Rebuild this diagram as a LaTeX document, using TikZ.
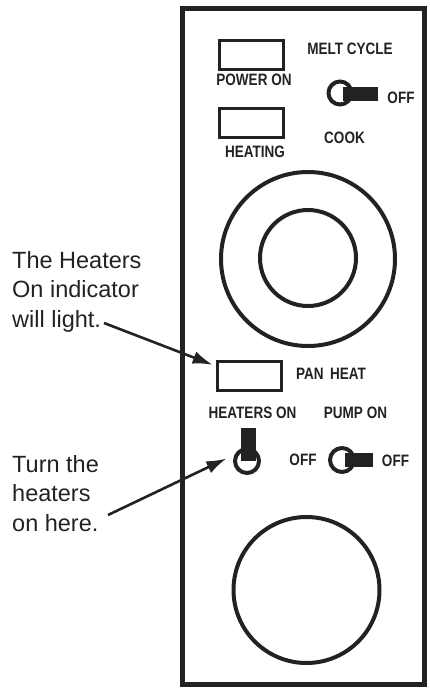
\documentclass[tikz,border=0pt]{standalone}
\usepackage{fontspec}
\newfontfamily\notefont{Liberation Sans}
\newfontfamily\panelfont[FakeStretch=0.82]{Liberation Sans}
\usepackage{tikz}
\usetikzlibrary{arrows.meta, positioning}
\definecolor{ink}{HTML}{222222}

\begin{document}
\begin{tikzpicture}[
  x=1pt, y=-1pt,
  >=Latex,
  lamp/.style={draw=ink, line width=3pt, minimum width=64pt, minimum height=29pt, inner sep=0pt},
  tag/.style={font=\panelfont\bfseries\fontsize{16.5}{18}\selectfont, text=ink, inner sep=0pt},
  note/.style={font=\notefont\fontsize{23.5}{29.5}\selectfont, text=ink, align=left, inner sep=0pt, anchor=north west},
  dial/.style={circle, draw=ink, line width=4pt, inner sep=0pt},
  knob/.style={circle, draw=ink, line width=4pt, minimum size=23pt, inner sep=0pt},
  lever/.style={fill=ink, draw=none, inner sep=0pt},
  arrow/.style={-{Latex[length=20pt, width=13pt]}, line width=2.6pt, draw=ink}
]
\useasboundingbox (0,0) rectangle (430,688);

% panel
\draw[ink, line width=5pt] (182.5,8) rectangle (424.5,684);

% upper indicators
\node[lamp] (poweron) at (251,54.5) {};
\node[tag] (powertag) at (254,80) {POWER ON};
\node[lamp] (heating) at (251,123) {};
\node[tag] (heattag) at (255,152) {HEATING};

% melt cycle switch
\node[tag] (melttag) at (350,49) {MELT CYCLE};
\node[lever, minimum width=35pt, minimum height=14pt] (meltlever) at (360.5,93.5) {};
\node[knob] (meltknob) at (340,93) {};
\node[tag] (meltoff) at (401,98) {OFF};
\node[tag] (cooktag) at (344.5,138) {COOK};

% upper dial
\node[dial, minimum size=174pt] (bigdial) at (308,259) {};
\node[dial, minimum size=96pt] (bigcap) at (308,258) {};

% pan heat
\node[lamp] (panheat) at (249,375.5) {};
\node[tag] (pantag) at (331,374) {PAN\hspace{0.4em}HEAT};

% heaters switch
\node[tag] (heatersontag) at (252.5,413) {HEATERS ON};
\node[lever, minimum width=15pt, minimum height=33pt] (heatlever) at (248.5,444.5) {};
\node[knob, minimum size=24pt] (heatknob) at (247,461) {};

% pump switch
\node[tag] (pumptag) at (355.5,413) {PUMP ON};
\node[tag] (pumpoffl) at (303,460) {OFF};
\node[lever, minimum width=28pt, minimum height=14pt] (pumplever) at (359,460) {};
\node[knob, minimum size=24pt] (pumpknob) at (342,460) {};
\node[tag] (pumpoffr) at (395.5,461) {OFF};

% lower dial
\node[dial, minimum size=146pt] (lowdial) at (306.5,590) {};

% callouts
\node[note] (lightnote) at (12,251) {The Heaters\\On indicator\\will light.};
\coordinate (lighttail) at (104,323);
\node[note] (turnnote) at (12,455) {Turn the\\heaters\\on here.};
\coordinate (turntail) at (108,515);

\draw[arrow, shorten >=3pt] (lighttail) -- (panheat.164);
\draw[arrow, shorten >=9pt] (turntail) -- (heatknob.153);

\end{tikzpicture}
\end{document}
